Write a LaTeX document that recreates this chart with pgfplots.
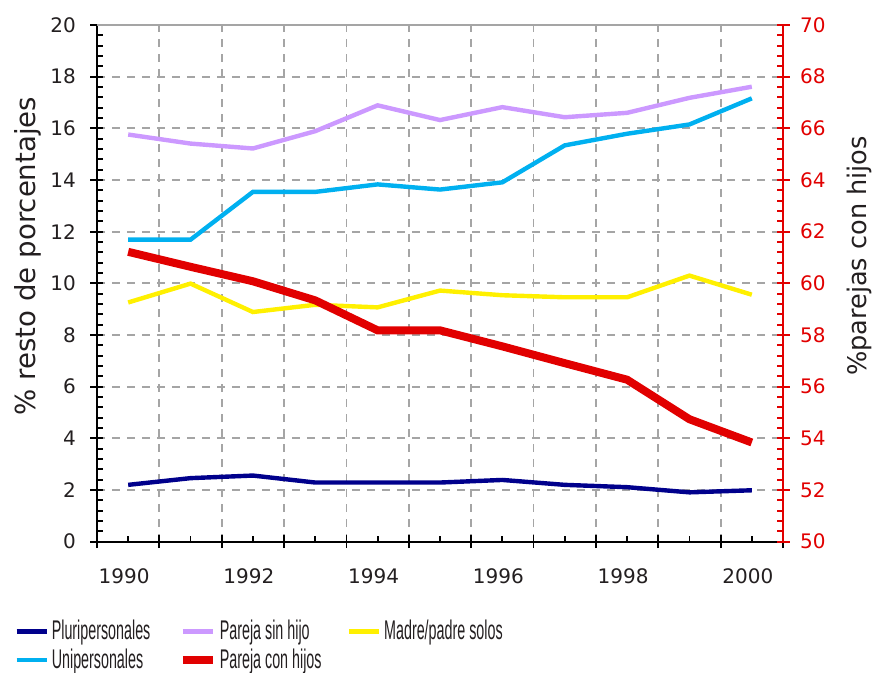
\documentclass[border=0pt]{standalone}
\usepackage{fontspec}
\setmainfont{DejaVu Sans}
\newfontfamily\legfont{Liberation Sans}
\usepackage{pgfplots}
\pgfplotsset{compat=1.18}
\usetikzlibrary{calc}
\definecolor{cnavy}{RGB}{0,0,140}
\definecolor{clila}{RGB}{204,153,255}
\definecolor{cyel}{RGB}{255,240,0}
\definecolor{ccyan}{RGB}{0,176,240}
\definecolor{cred}{RGB}{225,0,0}
\definecolor{cgrid}{RGB}{165,165,165}
\definecolor{ctext}{RGB}{35,31,32}
\newcommand{\legtxt}[1]{\makebox[62pt][l]{\legfont\fontsize{13.5}{14}\selectfont\scalebox{0.53}[1]{#1}}}
\pgfplotsset{
  base/.style={
    scale only axis, width=343pt, height=258.35pt,
    xmin=1989.5, xmax=2000.5,
    /pgf/number format/assume math mode=true,
    tick label style={font=\fontsize{10}{12}\selectfont, text=ctext},
    tick align=inside, major tick length=6.5pt, minor tick length=3pt,
    every tick/.style={line width=0.9pt},
    axis line style={line width=1pt},
  },
  thin/.style={line width=2.2pt, mark=none},
}
\begin{document}
\begin{tikzpicture}
\begin{axis}[base, name=ax,
  ymin=0, ymax=20,
  axis y line*=left, axis x line*=bottom,
  ytick={0,2,...,20}, minor y tick num=4,
  major y tick style={xshift=-3.25pt},
  major x tick style={yshift=-3.25pt},
  xtick={1989.5,1990.5,...,2000.5}, xticklabels={},
  minor xtick={1990,1991,...,2000},
  extra x ticks={1990,1992,...,2000},
  extra x tick style={major tick length=0pt, xmajorgrids=false},
  xticklabel style={/pgf/number format/1000 sep={}, yshift=-10pt, xshift=-2pt},
  yticklabel style={xshift=-7pt},
  xmajorgrids=true, ymajorgrids=true,
  grid style={cgrid, line width=0.9pt, dash pattern=on 4pt off 3.5pt},
  every axis y label/.style={at={(axis description cs:-0.1006,0.553)}, rotate=90, anchor=center, text=ctext},
  ylabel={\fontsize{13.8}{14}\selectfont\% resto de porcentajes},
  legend columns=3,
  legend style={at={(axis description cs:-0.121,-0.145)}, anchor=north west, draw=none, fill=none,
    inner sep=0pt, row sep=0pt, nodes={inner sep=1.5pt, text=ctext}},
  legend image code/.code={\draw[#1] (0pt,0pt) -- (15pt,0pt);},
]
\draw[cgrid, line width=1pt] (rel axis cs:0,1) -- (rel axis cs:1,1);
\addplot[thin, cnavy] coordinates {
 (1990,2.20) (1991,2.46) (1992,2.56) (1993,2.29) (1994,2.29) (1995,2.29)
 (1996,2.39) (1997,2.20) (1998,2.11) (1999,1.91) (2000,1.99)};
\addlegendentry{\legtxt{Pluripersonales}}
\addplot[thin, clila] coordinates {
 (1990,15.76) (1991,15.41) (1992,15.22) (1993,15.89) (1994,16.89) (1995,16.32)
 (1996,16.82) (1997,16.43) (1998,16.60) (1999,17.18) (2000,17.61)};
\addlegendentry{\legtxt{Pareja sin hijo}}
\addplot[thin, cyel] coordinates {
 (1990,9.26) (1991,9.99) (1992,8.89) (1993,9.17) (1994,9.07) (1995,9.72)
 (1996,9.54) (1997,9.46) (1998,9.46) (1999,10.30) (2000,9.56)};
\addlegendentry{\legtxt{Madre/padre solos}}
\addplot[thin, ccyan] coordinates {
 (1990,11.69) (1991,11.69) (1992,13.54) (1993,13.54) (1994,13.83) (1995,13.63)
 (1996,13.91) (1997,15.34) (1998,15.79) (1999,16.15) (2000,17.16)};
\addlegendentry{\legtxt{Unipersonales}}
\addlegendimage{line width=4pt, cred}
\addlegendentry{\legtxt{Pareja con hijos}}
\end{axis}
\begin{axis}[base,
  ymin=50, ymax=70,
  axis y line*=right, axis x line=none,
  ytick={50,52,...,70}, minor y tick num=4,
  y axis line style={cred, line width=1pt},
  every tick/.style={cred, line width=0.9pt},
  major y tick style={xshift=3.25pt},
  yticklabel style={text=cred, xshift=5pt},
  every axis y label/.style={at={(axis description cs:1.112,0.553)}, rotate=90, anchor=center, text=ctext},
  ylabel={\fontsize{12.8}{14}\selectfont\%parejas con hijos},
]
\addplot[line width=4pt, cred, mark=none] coordinates {
 (1990,61.22) (1991,60.64) (1992,60.08) (1993,59.34) (1994,58.18) (1995,58.18)
 (1996,57.56) (1997,56.91) (1998,56.27) (1999,54.74) (2000,53.84)};
\end{axis}
\pgfresetboundingbox
\path ($(ax.south west)+(-48.5pt,-65.65pt)$) rectangle ($(ax.north east)+(45.5pt,12.5pt)$);
\end{tikzpicture}
\end{document}
